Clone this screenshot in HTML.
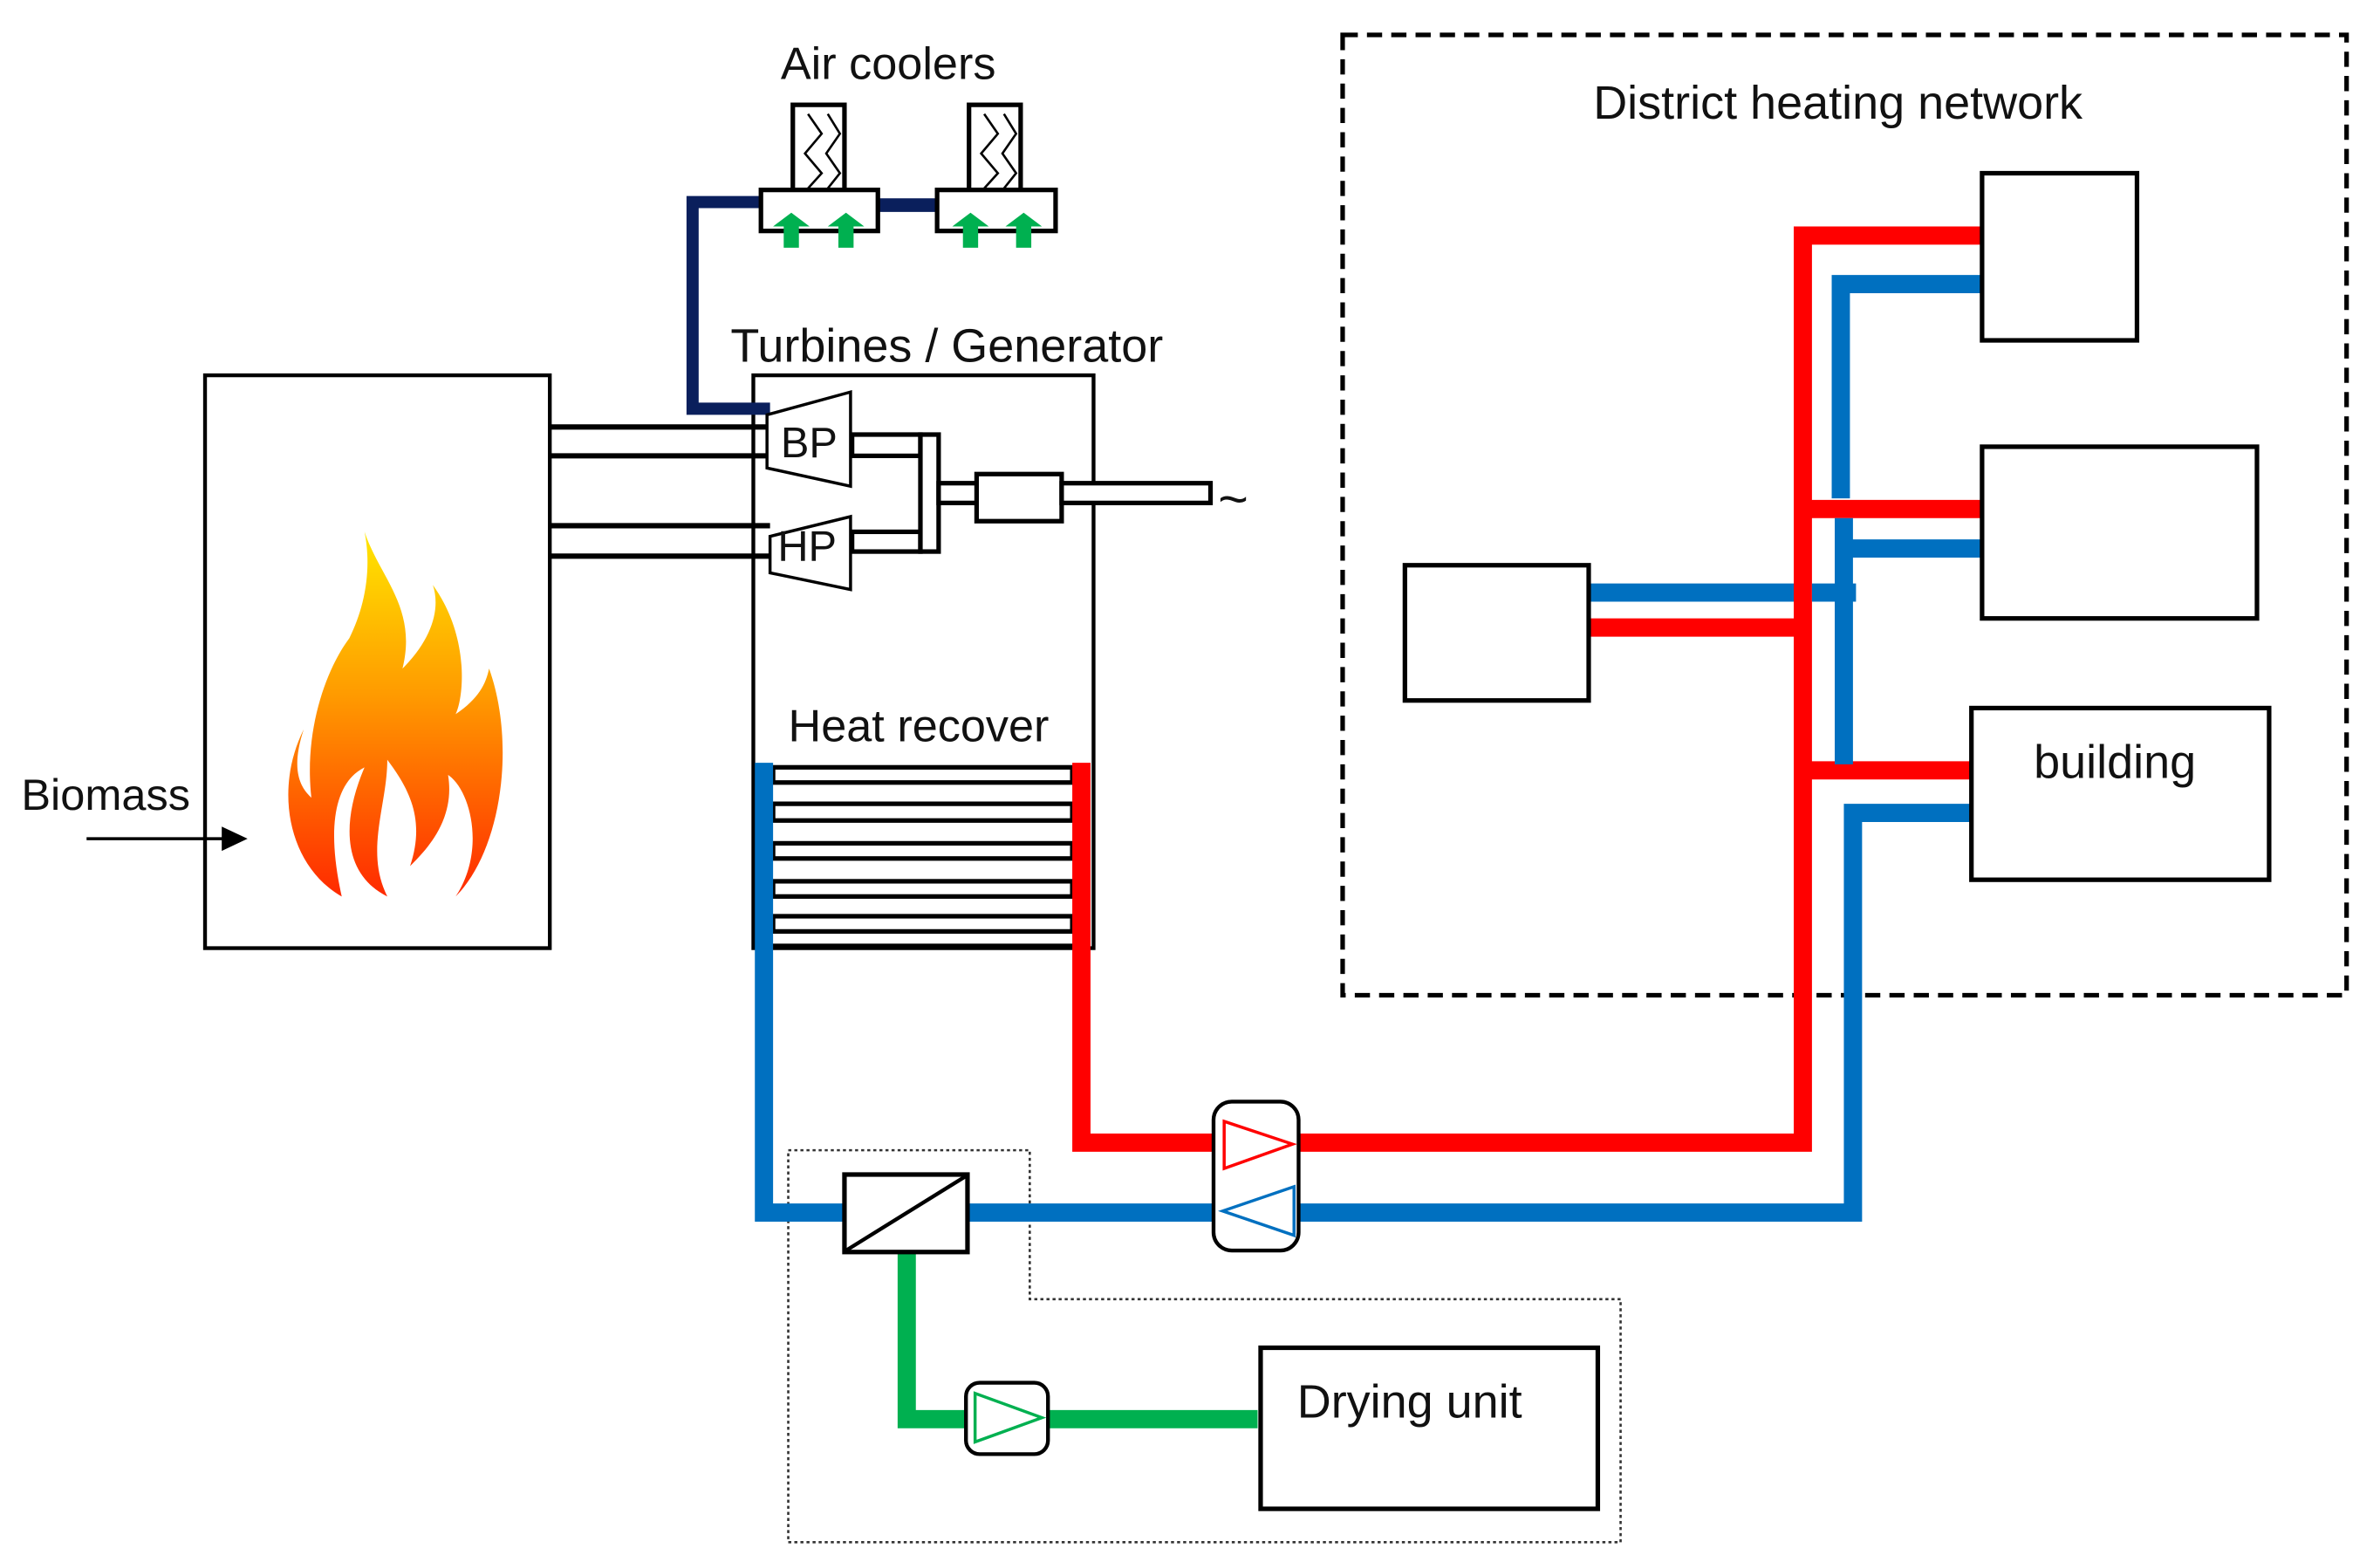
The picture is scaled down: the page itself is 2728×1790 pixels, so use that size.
<!DOCTYPE html>
<html><head><meta charset="utf-8"><style>
html,body{margin:0;padding:0;background:#fff;width:2728px;height:1790px;overflow:hidden}
svg{display:block}
text{font-family:"Liberation Sans",sans-serif;fill:#111}
</style></head><body>
<svg width="2728" height="1790" viewBox="0 0 1567 1028" preserveAspectRatio="none" xmlns="http://www.w3.org/2000/svg">
<defs>
<linearGradient id="fl" x1="0" y1="0" x2="0" y2="1">
<stop offset="0" stop-color="#ffe600"/><stop offset="0.45" stop-color="#ff9a00"/><stop offset="1" stop-color="#ff2a00"/>
</linearGradient>
</defs>
<rect width="1567" height="1028" fill="#fff"/>
<!-- labels -->
<text x="514" y="52" font-size="30">Air coolers</text>
<text x="481" y="238" font-size="31">Turbines / Generator</text>
<text x="519" y="488" font-size="30">Heat recover</text>
<text x="1049" y="78" font-size="31">District heating network</text>
<text x="14" y="533" font-size="29">Biomass</text>
<text x="802" y="340" font-size="34">~</text>

<!-- boiler -->
<rect x="135" y="247" width="227" height="377" fill="none" stroke="#000" stroke-width="2.5"/>
<path d="M240,350 C250,380 275,400 265,440 C285,420 290,400 285,385 C310,420 305,460 300,470 C315,460 320,450 322,440 C340,490 330,560 300,590 C320,560 310,520 295,510 C300,540 280,560 270,570 C280,540 270,520 255,500 C255,530 240,560 255,590 C225,575 225,540 240,505 C220,515 215,545 225,590 C190,570 180,520 200,480 C190,510 200,520 205,525 C200,480 215,440 230,420 C240,400 245,375 240,350 Z" fill="url(#fl)"/>
<line x1="57" y1="552" x2="150" y2="552" stroke="#000" stroke-width="2"/>
<polygon points="163,552 146,544 146,560" fill="#000"/>

<!-- turbine box -->
<rect x="496" y="247" width="224" height="377" fill="none" stroke="#000" stroke-width="2.5"/>
<!-- steam pipes -->
<g stroke="#000" stroke-width="3.5">
<line x1="362" y1="281" x2="506" y2="281"/><line x1="362" y1="300" x2="506" y2="300"/>
<line x1="362" y1="346" x2="507" y2="346"/><line x1="362" y1="366" x2="507" y2="366"/>
</g>
<!-- navy pipe -->
<polyline points="507,269 456,269 456,133 502,133" fill="none" stroke="#0a1f5c" stroke-width="8"/>
<line x1="578" y1="135" x2="617" y2="135" stroke="#0a1f5c" stroke-width="9"/>
<!-- turbines -->
<polygon points="505,273 560,258 560,320 505,308" fill="#fff" stroke="#000" stroke-width="2"/>
<polygon points="507,353 560,340 560,388 507,377" fill="#fff" stroke="#000" stroke-width="2"/>
<text x="514" y="301" font-size="28">BP</text>
<text x="512" y="369" font-size="28">HP</text>
<g fill="#fff" stroke="#000" stroke-width="3">
<rect x="561" y="286" width="45" height="14"/>
<rect x="561" y="350" width="45" height="13"/>
<rect x="606" y="286" width="12" height="77"/>
<rect x="618" y="318" width="26" height="13"/>
<rect x="643" y="312" width="56" height="31"/>
<rect x="699" y="318" width="98" height="13"/>
</g>
<!-- air coolers -->
<g fill="#fff" stroke="#000" stroke-width="3">
<rect x="522" y="69" width="34" height="56"/>
<rect x="638" y="69" width="34" height="56"/>
<rect x="501" y="125" width="77" height="27"/>
<rect x="617" y="125" width="78" height="27"/>
</g>
<g fill="none" stroke="#000" stroke-width="1.5">
<polyline points="532,75 541,88 530,101 541,114 532,124"/>
<polyline points="545,75 553,88 544,101 553,114 545,124"/>
<polyline points="648,75 657,88 646,101 657,114 648,124"/>
<polyline points="661,75 669,88 660,101 669,114 661,124"/>
</g>
<g fill="#00b050">
<path d="M521,140 l-12,9 h7 v14 h10 v-14 h7 z"/>
<path d="M557,140 l-12,9 h7 v14 h10 v-14 h7 z"/>
<path d="M639,140 l-12,9 h7 v14 h10 v-14 h7 z"/>
<path d="M674,140 l-12,9 h7 v14 h10 v-14 h7 z"/>
</g>

<!-- heat recovery tubes -->
<g fill="#fff" stroke="#000" stroke-width="3">
<rect x="509" y="505" width="197" height="10"/>
<rect x="509" y="529" width="197" height="11"/>
<rect x="509" y="555" width="197" height="10"/>
<rect x="509" y="580" width="197" height="10"/>
<rect x="509" y="603" width="197" height="10"/>
</g>
<line x1="503" y1="622" x2="712" y2="622" stroke="#000" stroke-width="2"/>

<!-- dashed DH box -->
<rect x="884" y="23" width="661" height="632" fill="none" stroke="#000" stroke-width="3" stroke-dasharray="10,6"/>
<!-- dotted drying box -->
<polyline points="519,757 678,757 678,855 1067,855 1067,1015 519,1015 519,757" fill="none" stroke="#333" stroke-width="1.5" stroke-dasharray="2,2"/>

<!-- red pipes -->
<g fill="none" stroke="#ff0000" stroke-width="12">
<polyline points="712,502 712,752 1187,752 1187,155 1305,155"/>
<line x1="1187" y1="335" x2="1305" y2="335"/>
<line x1="1046" y1="413" x2="1187" y2="413"/>
<line x1="1187" y1="507" x2="1298" y2="507"/>
</g>
<!-- blue pipes -->
<g fill="none" stroke="#0070c0" stroke-width="12">
<polyline points="503,502 503,798 1220,798 1220,535 1298,535"/>
<polyline points="1305,187 1212,187 1212,328"/>
<polyline points="1214,341 1214,503"/>
<line x1="1214" y1="361" x2="1305" y2="361"/>
<line x1="1046" y1="390" x2="1181" y2="390"/>
<line x1="1193" y1="390" x2="1222" y2="390"/>
</g>
<!-- green -->
<polyline points="597,824 597,934 828,934" fill="none" stroke="#00b050" stroke-width="12"/>

<!-- DH boxes -->
<g fill="#fff" stroke="#000" stroke-width="3">
<rect x="1305" y="114" width="102" height="110"/>
<rect x="1305" y="294" width="181" height="113"/>
<rect x="1298" y="466" width="196" height="113"/>
<rect x="925" y="372" width="121" height="89"/>
<rect x="830" y="887" width="222" height="106"/>
</g>
<text x="1339" y="512" font-size="31">building</text>
<text x="854" y="933" font-size="31">Drying unit</text>

<!-- pump -->
<rect x="799" y="725" width="56" height="98" rx="12" fill="#fff" stroke="#000" stroke-width="2.5"/>
<polygon points="806,738 851,753 806,769" fill="none" stroke="#ff0000" stroke-width="2"/>
<polygon points="852,781 805,797 852,813" fill="none" stroke="#0070c0" stroke-width="2"/>
<!-- hx small -->
<rect x="556" y="773" width="81" height="51" fill="#fff" stroke="#000" stroke-width="3"/>
<line x1="557" y1="823" x2="636" y2="774" stroke="#000" stroke-width="2.5"/>
<!-- green pump -->
<rect x="636" y="910" width="54" height="47" rx="9" fill="#fff" stroke="#000" stroke-width="2.5"/>
<polygon points="642,917 686,933 642,949" fill="none" stroke="#00b050" stroke-width="2"/>
</svg>
</body></html>
